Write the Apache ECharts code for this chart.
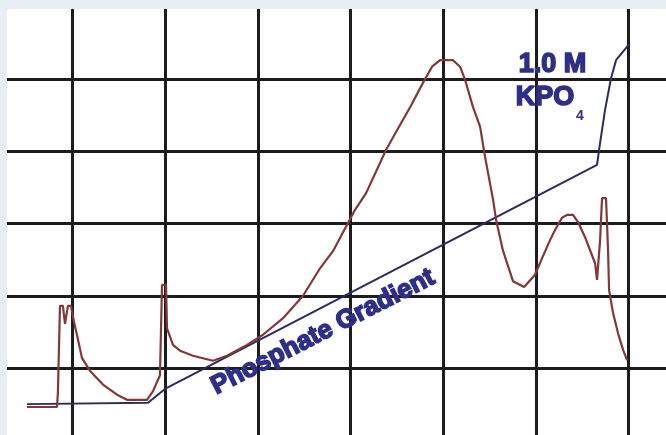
<!DOCTYPE html>
<html>
<head>
<meta charset="utf-8">
<script src="https://cdn.jsdelivr.net/npm/echarts@6/dist/echarts.min.js"></script>
<style>
html,body{margin:0;padding:0;width:666px;height:435px;background:#e7eef4;overflow:hidden;}
#c{position:absolute;left:7px;top:9px;width:659px;height:426px;background:#ffffff;}
</style>
</head>
<body>
<div id="c"></div>
<script>
// Elution time (x) and absorbance (y)
const absX = [5.07,8.31,8.41,8.63,8.95,9.17,9.49,9.82,10.14,10.46,11.00,11.87,13.27,14.78,15.86,18.02,18.67,19.42,19.64,20.07,20.18,20.82,21.58,22.98,25.14,26.65,28.81,30.54,32.70,34.86,36.69,38.10,40.47,41.66,43.82,45.00,46.41,47.81,48.78,49.64,51.04,51.80,52.34,53.20,53.96,54.50,55.36,55.69,56.44,57.52,58.71,59.89,60.65,61.51,62.05,62.80,63.34,63.99,64.53,65.29,65.83,66.37,66.58,66.91,67.12,67.55,67.77,67.88,68.31,68.85,69.39,69.82];
const absY = [0.046,0.046,0.067,0.186,0.186,0.161,0.186,0.186,0.164,0.146,0.114,0.096,0.077,0.063,0.056,0.056,0.068,0.090,0.215,0.215,0.155,0.132,0.124,0.117,0.110,0.117,0.132,0.146,0.169,0.200,0.238,0.262,0.319,0.342,0.402,0.429,0.461,0.495,0.517,0.526,0.526,0.517,0.499,0.461,0.434,0.392,0.333,0.305,0.262,0.220,0.212,0.229,0.252,0.277,0.291,0.308,0.312,0.312,0.302,0.281,0.263,0.245,0.222,0.277,0.335,0.335,0.263,0.208,0.176,0.148,0.125,0.111];
// Phosphate gradient program
const gradX = [5.07,18.13,19.96,66.58,66.80,67.44,68.09,68.63,70.03];
const gradY = [0.050,0.052,0.071,0.381,0.402,0.457,0.501,0.526,0.548];

const labelGradient = 'Phosphate Gradient';
const labelConc1 = '1.0 M';
const labelConc2 = 'KPO';
const labelConcSub = '4';

const chart = echarts.init(document.getElementById('c'), null, {renderer:'canvas'});
const pairs = (xs, ys) => xs.map((x, i) => [x, ys[i]]);
const txtColor = '#2f2f8a';
const font = '"Liberation Sans", Arial, sans-serif';
const heavy = {stroke: txtColor, lineWidth: 1.6};

chart.setOption({
  animation: false,
  backgroundColor: '#ffffff',
  grid: {left: -27, right: -55.4, top: -2.25, bottom: -5.25, outerBoundsMode: 'none', show: false},
  xAxis: {
    type: 'value', min: 0, max: 80, interval: 10,
    axisLine: {show: false}, axisTick: {show: false}, axisLabel: {show: false},
    splitLine: {show: true, lineStyle: {color: '#1c1c1c', width: 3}}
  },
  yAxis: {
    type: 'value', min: 0, max: 0.6, interval: 0.1,
    axisLine: {show: false}, axisTick: {show: false}, axisLabel: {show: false},
    splitLine: {show: true, lineStyle: {color: '#1c1c1c', width: 3}}
  },
  series: [
    {
      type: 'line', data: pairs(gradX, gradY), showSymbol: false, z: 3,
      lineStyle: {color: '#2c2c5c', width: 2}
    },
    {
      type: 'line', data: pairs(absX, absY), showSymbol: false, z: 4,
      lineStyle: {color: '#823838', width: 2.2}
    }
  ],
  graphic: [
    {type: 'text', x: 316, y: 323, rotation: 27 * Math.PI / 180, z: 10,
     style: Object.assign({text: labelGradient, fill: txtColor, font: 'bold 26px ' + font, align: 'center', verticalAlign: 'middle'}, heavy)},
    {type: 'text', x: 545.5, y: 55.5, z: 10,
     style: Object.assign({text: labelConc1, fill: txtColor, font: 'bold 27px ' + font, align: 'center', verticalAlign: 'middle'}, heavy)},
    {type: 'text', x: 538, y: 89, z: 10,
     style: Object.assign({text: labelConc2, fill: txtColor, font: 'bold 27px ' + font, align: 'center', verticalAlign: 'middle'}, heavy)},
    {type: 'text', x: 573, y: 107, z: 10,
     style: {text: labelConcSub, fill: txtColor, font: 'bold 14px ' + font, align: 'center', verticalAlign: 'middle'}}
  ]
});
</script>
</body>
</html>
